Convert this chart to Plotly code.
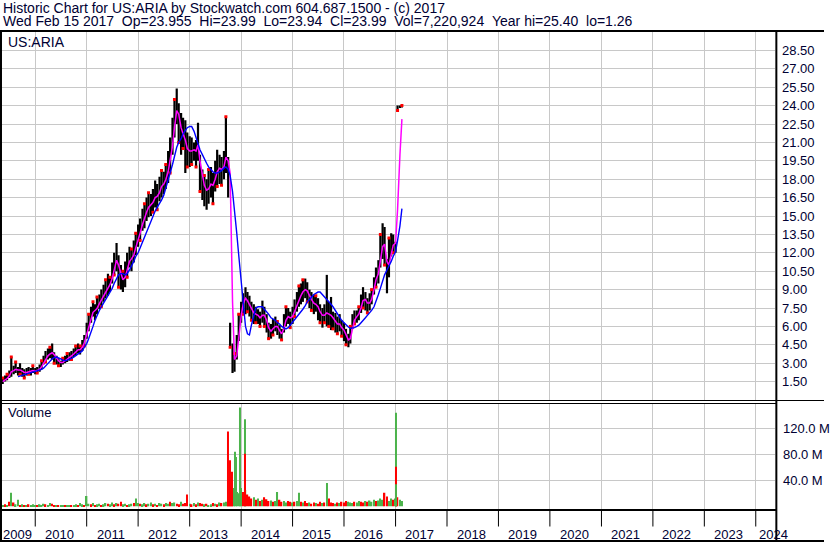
import plotly.graph_objects as go
from datetime import date

W, H = 830, 543

# ---------------- data ----------------
years = [2009, 2010, 2011, 2012, 2013, 2014, 2015, 2016, 2017, 2018,
         2019, 2020, 2021, 2022, 2023, 2024]
price_ticks = [1.5, 3.0, 4.5, 6.0, 7.5, 9.0, 10.5, 12.0, 13.5, 15.0, 16.5,
               18.0, 19.5, 21.0, 22.5, 24.0, 25.5, 27.0, 28.5]
price_tick_text = ["1.50", "3.00", "4.50", "6.00", "7.50", "9.00", "10.50",
                   "12.00", "13.50", "15.00", "16.50", "18.00", "19.50",
                   "21.00", "22.50", "24.00", "25.50", "27.00", "28.50"]
vol_ticks = [40e6, 80e6, 120e6]
vol_tick_text = ["40.0 M", "80.0 M", "120.0 M"]

# semi-monthly bars (1st / 15th), 2009-05-15 .. 2017-02-15
low_2009 = [1.3, 1.5, 1.6, 1.8, 1.9, 2.1, 2.2, 2.0, 2.1, 1.9, 1.8, 2.0, 2.1, 2.0, 2.2]
high_2009 = [1.8, 2.0, 2.1, 2.4, 3.5, 2.8, 3.1, 2.7, 3.0, 2.6, 2.5, 2.6, 2.7, 2.6, 2.8]
low_2010 = [2.1, 2.2, 2.3, 2.5, 2.9, 3.1, 3.3, 3.4, 3.3, 3.0, 2.9, 2.8,
            2.7, 2.9, 3.0, 3.1, 3.2, 3.3, 3.5, 3.6, 3.8, 3.7, 4.0, 4.4]
high_2010 = [2.6, 2.7, 2.9, 3.2, 3.6, 4.0, 4.2, 4.3, 4.6, 3.9, 3.6, 3.4,
             3.2, 3.4, 3.6, 3.8, 3.9, 4.0, 4.2, 4.4, 4.6, 4.4, 4.9, 5.3]
low_2011 = [5.0, 5.6, 6.3, 6.8, 6.5, 7.0, 7.4, 7.6, 8.0, 8.3, 8.5, 8.8,
            9.5, 10.2, 10.5, 9.2, 9.0, 8.8, 9.2, 10.0, 10.8, 10.5, 11.2, 11.8]
high_2011 = [6.3, 7.0, 7.6, 8.0, 7.8, 8.4, 8.6, 9.0, 9.4, 9.8, 10.3, 10.0,
             11.2, 12.0, 12.8, 11.8, 11.0, 10.5, 11.3, 12.0, 12.5, 12.3, 13.0, 13.6]
low_2012 = [12.5, 13.0, 13.8, 14.0, 14.6, 14.9, 15.0, 15.3, 15.7, 15.5, 16.2, 16.5,
            16.8, 17.2, 17.7, 18.5, 20.0, 21.4, 22.5, 21.0, 20.0, 20.5, 18.5, 19.0]
high_2012 = [14.3, 14.8, 15.6, 16.0, 16.5, 16.9, 16.8, 17.2, 17.9, 17.6, 18.2, 18.7,
             18.6, 19.2, 20.3, 21.4, 23.0, 24.5, 25.4, 24.2, 23.4, 23.0, 22.8, 21.8]
low_2013 = [19.0, 19.2, 19.5, 19.0, 19.5, 17.0, 16.3, 15.8, 15.5, 16.0, 16.5, 16.0,
            17.0, 17.4, 17.6, 17.5, 18.0, 18.5, 16.5, 4.3, 2.2, 2.3, 3.3, 4.8]
high_2013 = [21.5, 21.4, 21.0, 21.2, 22.6, 20.0, 18.8, 18.3, 18.0, 18.8, 19.0, 18.5,
             19.5, 20.4, 20.0, 19.8, 20.3, 23.1, 19.8, 6.3, 4.6, 3.8, 5.3, 7.0]
low_2014 = [6.3, 7.0, 7.0, 7.2, 6.8, 6.5, 6.2, 6.3, 6.2, 6.0, 6.3, 6.0,
            5.5, 5.0, 5.0, 5.3, 5.6, 5.3, 5.0, 4.9, 5.5, 6.0, 6.2, 5.9]
high_2014 = [8.0, 8.7, 9.2, 8.8, 8.5, 8.0, 7.8, 7.6, 7.4, 7.2, 8.1, 7.6,
             7.0, 6.3, 6.2, 6.6, 6.8, 6.4, 6.1, 5.8, 7.0, 7.6, 7.5, 7.2]
low_2015 = [6.2, 6.8, 7.2, 7.6, 7.8, 8.0, 8.3, 8.0, 7.5, 7.3, 7.0, 7.2,
            6.5, 6.3, 5.9, 6.3, 6.0, 6.0, 5.7, 5.8, 5.5, 5.4, 5.6, 5.2]
high_2015 = [7.6, 8.2, 8.8, 9.3, 9.5, 9.8, 9.9, 9.6, 9.0, 8.8, 8.6, 8.5,
             8.3, 7.8, 7.5, 7.8, 10.2, 8.0, 8.4, 7.2, 7.1, 6.8, 7.0, 6.5]
low_2016 = [4.8, 4.5, 4.3, 4.6, 5.8, 6.2, 6.3, 6.5, 7.1, 7.5, 7.3, 7.1,
            7.3, 7.8, 8.6, 9.2, 9.5, 10.8, 11.5, 11.0, 8.7, 10.0, 11.7, 12.0]
high_2016 = [6.3, 5.8, 5.4, 6.0, 7.0, 7.3, 7.3, 7.6, 8.6, 9.2, 8.8, 8.3,
             8.7, 9.0, 10.0, 10.8, 11.4, 13.5, 14.4, 14.1, 11.5, 13.2, 13.6, 13.5]
low_2017 = [12.0, 23.6, 23.8, 23.85]
high_2017 = [12.9, 24.0, 24.0, 24.0]

ma_short_2009 = [1.5, 1.6, 1.75, 1.95, 2.3, 2.4, 2.5, 2.45, 2.45, 2.35, 2.25, 2.25, 2.3, 2.3, 2.4]
ma_short_2010 = [2.35, 2.4, 2.5, 2.7, 3.0, 3.35, 3.6, 3.75, 3.85, 3.7, 3.4, 3.2,
                 3.05, 3.05, 3.2, 3.35, 3.5, 3.6, 3.75, 3.9, 4.1, 4.1, 4.3, 4.65]
ma_short_2011 = [5.3, 6.0, 6.6, 7.15, 7.3, 7.45, 7.85, 8.15, 8.5, 8.85, 9.2, 9.4,
                 9.9, 10.7, 11.4, 11.0, 10.3, 9.8, 10.0, 10.6, 11.3, 11.5, 11.8, 12.4]
ma_short_2012 = [13.0, 13.6, 14.3, 14.85, 15.3, 15.7, 15.9, 16.1, 16.5, 16.6, 16.9, 17.4,
                 17.6, 17.95, 18.6, 19.5, 20.7, 22.2, 23.6, 23.3, 22.2, 21.7, 21.2, 20.5]
ma_short_2013 = [20.3, 20.3, 20.4, 20.3, 20.8, 19.5, 18.2, 17.5, 17.1, 17.2, 17.6, 17.5,
                 18.0, 18.6, 18.9, 18.8, 19.0, 19.8, 19.5, 18.5, 8.0, 3.3, 3.6, 5.2]
ma_short_2014 = [6.8, 7.8, 8.3, 8.1, 7.8, 7.4, 7.1, 7.0, 6.9, 6.7, 6.9, 6.9,
                 6.5, 5.9, 5.6, 5.8, 6.0, 6.0, 5.7, 5.4, 5.8, 6.5, 6.8, 6.7]
ma_short_2015 = [6.8, 7.2, 7.7, 8.2, 8.5, 8.8, 9.0, 8.9, 8.5, 8.2, 7.9, 7.8,
                 7.6, 7.2, 6.9, 6.9, 7.1, 7.0, 6.9, 6.7, 6.4, 6.2, 6.2, 5.9]
ma_short_2016 = [5.7, 5.3, 4.9, 5.0, 5.8, 6.5, 6.8, 7.0, 7.5, 8.1, 8.2, 7.9,
                 7.9, 8.2, 9.0, 9.8, 10.3, 11.3, 12.5, 12.7, 11.3, 11.0, 12.0, 12.6]
ma_short_2017 = [12.8, 15.5, 20.0, 22.9]

ma_long_2009 = [None, None, None, None, None, None, None, 1.9, 1.95, 2.0, 2.05, 2.1, 2.15, 2.2, 2.25]
ma_long_2010 = [2.3, 2.35, 2.4, 2.5, 2.6, 2.75, 2.95, 3.15, 3.35, 3.45, 3.5, 3.45,
                3.35, 3.25, 3.2, 3.25, 3.3, 3.4, 3.5, 3.6, 3.75, 3.85, 4.0, 4.3]
ma_long_2011 = [4.6, 5.0, 5.5, 6.0, 6.5, 6.9, 7.3, 7.6, 7.9, 8.2, 8.5, 8.8,
                9.1, 9.5, 9.9, 10.2, 10.3, 10.3, 10.2, 10.3, 10.6, 10.9, 11.3, 11.7]
ma_long_2012 = [12.0, 12.4, 12.9, 13.3, 13.7, 14.1, 14.6, 15.0, 15.4, 15.7, 16.0, 16.3,
                16.7, 17.2, 17.8, 18.5, 19.2, 20.0, 20.6, 21.0, 21.3, 21.7, 22.0, 22.2]
ma_long_2013 = [22.3, 22.3, 21.9, 21.4, 20.8, 20.4, 20.0, 19.6, 19.3, 19.0, 18.8, 18.6,
                18.5, 18.5, 18.6, 18.7, 18.9, 19.0, 18.8, 18.3, 17.0, 15.6, 13.6, 11.8]
ma_long_2014 = [9.6, 7.8, 6.0, 5.4, 5.3, 6.1, 7.0, 7.5, 7.6, 7.6, 7.6, 7.4,
                7.2, 7.0, 6.7, 6.6, 6.5, 6.3, 6.2, 6.0, 5.9, 5.8, 5.9, 6.1]
ma_long_2015 = [6.3, 6.5, 6.8, 7.0, 7.2, 7.4, 7.7, 8.0, 8.2, 8.4, 8.6, 8.7,
                8.8, 8.8, 8.6, 8.4, 8.2, 8.0, 7.8, 7.6, 7.3, 7.0, 6.7, 6.5]
ma_long_2016 = [6.3, 6.1, 5.95, 5.85, 5.85, 5.9, 6.0, 6.1, 6.3, 6.45, 6.7, 6.9,
                7.1, 7.3, 7.6, 8.0, 8.6, 9.1, 9.7, 10.2, 10.6, 10.9, 11.3, 11.7]
ma_long_2017 = [12.1, 13.0, 14.2, 15.6]

# volume (millions) and direction (1 = up/green, 0 = down/red)
vol_2009 = [2, 3, 2, 7, 21, 6, 3, 10, 2, 3, 2, 2, 3, 2, 3]
vol_2010 = [2, 1, 3, 2, 4, 3, 2, 5, 4, 2, 1, 2, 1, 2, 1, 1, 2, 1, 2, 3, 2, 5, 3, 2]
vol_2011 = [16, 4, 3, 5, 2, 3, 4, 2, 3, 5, 4, 3, 6, 3, 5, 4, 7, 3, 4, 2, 3, 4, 5, 12]
vol_2012 = [5, 4, 3, 5, 3, 4, 6, 3, 4, 2, 5, 4, 3, 5, 4, 7, 5, 6, 4, 3, 7, 4, 5, 18]
vol_2013 = [4, 3, 5, 3, 6, 5, 4, 3, 4, 2, 3, 5, 4, 3, 6, 5, 6, 7, 8, 30, 25, 28, 22, 20]
vol_2014 = [28, 22, 25, 18, 15, 12, 14, 10, 12, 8, 10, 14, 11, 8, 9, 7, 8, 22, 10, 7, 8, 6, 8, 7]
vol_2015 = [6, 7, 8, 21, 7, 6, 8, 5, 6, 4, 6, 5, 4, 7, 5, 6, 36, 12, 6, 5, 4, 6, 5, 7]
vol_2016 = [6, 8, 7, 6, 5, 7, 6, 8, 7, 6, 8, 7, 9, 7, 10, 8, 9, 12, 10, 21, 15, 8, 12, 10]
vol_2017 = [12, 14, 10, 8]

dir_2009 = [1, 0, 1, 0, 1, 0, 1, 1, 0, 1, 0, 1, 0, 1, 1]
dir_2010 = [1, 0, 1, 1, 1, 0, 1, 1, 0, 0, 1, 0, 1, 1, 0, 1, 1, 0, 1, 1, 0, 1, 1, 0]
dir_2011 = [1, 1, 0, 1, 0, 1, 1, 0, 1, 1, 0, 1, 1, 0, 1, 0, 0, 1, 1, 0, 1, 1, 0, 1]
dir_2012 = [1, 0, 1, 1, 0, 1, 1, 0, 1, 0, 1, 1, 0, 1, 1, 0, 1, 1, 0, 0, 1, 0, 0, 0]
dir_2013 = [1, 0, 1, 0, 1, 0, 0, 1, 0, 1, 1, 0, 1, 0, 1, 0, 1, 1, 0, 0, 0, 1, 1, 1]
dir_2014 = [1, 0, 1, 0, 0, 0, 1, 0, 1, 0, 1, 0, 0, 0, 1, 0, 1, 1, 0, 0, 1, 1, 0, 0]
dir_2015 = [1, 0, 1, 1, 0, 1, 0, 0, 1, 0, 0, 1, 0, 0, 1, 0, 1, 0, 0, 0, 1, 0, 1, 0]
dir_2016 = [0, 0, 1, 1, 1, 0, 1, 1, 0, 0, 1, 0, 1, 1, 1, 0, 1, 1, 1, 0, 0, 1, 1, 0]
dir_2017 = [1, 0, 1, 1]

# single heavy-volume days (millions)
spike_dates = ["2013-10-01", "2013-10-15", "2013-10-27", "2013-11-17", "2013-11-29",
               "2013-12-21", "2014-01-25", "2014-01-26", "2017-01-04", "2017-01-05",
               "2017-01-06"]
spike_vols = [115, 71, 53, 84, 76, 152, 134, 81, 144, 61, 34]
spike_dirs = [0, 0, 0, 1, 1, 1, 1, 0, 1, 0, 1]

header_1 = "Historic Chart for US:ARIA by Stockwatch.com 604.687.1500 - (c) 2017"
header_2 = ["Wed Feb 15 2017", "Op=23.955", "Hi=23.99", "Lo=23.94", "Cl=23.99",
            "Vol=7,220,924", "Year hi=25.40", "lo=1.26"]

# ---------------- assemble ----------------
lows = low_2009 + low_2010 + low_2011 + low_2012 + low_2013 + low_2014 + low_2015 + low_2016 + low_2017
highs = high_2009 + high_2010 + high_2011 + high_2012 + high_2013 + high_2014 + high_2015 + high_2016 + high_2017
ma_short = (ma_short_2009 + ma_short_2010 + ma_short_2011 + ma_short_2012 + ma_short_2013
            + ma_short_2014 + ma_short_2015 + ma_short_2016 + ma_short_2017)
ma_long = (ma_long_2009 + ma_long_2010 + ma_long_2011 + ma_long_2012 + ma_long_2013
           + ma_long_2014 + ma_long_2015 + ma_long_2016 + ma_long_2017)
vols = vol_2009 + vol_2010 + vol_2011 + vol_2012 + vol_2013 + vol_2014 + vol_2015 + vol_2016 + vol_2017
dirs = dir_2009 + dir_2010 + dir_2011 + dir_2012 + dir_2013 + dir_2014 + dir_2015 + dir_2016 + dir_2017

bar_dates = []
for y in range(2009, 2018):
    for m in range(1, 13):
        for d in (1, 15):
            dt = date(y, m, d)
            if date(2009, 5, 15) <= dt <= date(2017, 2, 15):
                bar_dates.append(dt.isoformat())

n = len(bar_dates)
for name, arr in [("lows", lows), ("highs", highs), ("ma_short", ma_short),
                  ("ma_long", ma_long), ("vols", vols), ("dirs", dirs)]:
    if len(arr) != n:
        raise SystemExit(f"{name} has {len(arr)} values, expected {n}")

GREEN = "#4cb34c"
RED = "#ff0000"
GRID = "#c8c8c8"
TXT = "#000033"
FONT = "Arial, 'Liberation Sans', sans-serif"
HEAD_SIZE = 14
TICK_SIZE = 13


def X(px):
    return px / W


def Y(py):
    return 1 - py / H


bx, by = [], []
for d, lo, hi in zip(bar_dates, lows, highs):
    bx += [d, d, None]
    by += [lo, hi, None]

rx, ry = [], []
for i, (d, lo, hi, up) in enumerate(zip(bar_dates, lows, highs, dirs)):
    if i % 2 == 0:
        rx.append(d)
        ry.append(hi if up else lo)

fig = go.Figure()
fig.add_trace(go.Scatter(x=bx, y=by, mode="lines", line=dict(color="black", width=2.2),
                         xaxis="x", yaxis="y", hoverinfo="skip"))
fig.add_trace(go.Scatter(x=rx, y=ry, mode="markers",
                         marker=dict(symbol="square", size=3, color=RED, line=dict(width=0)),
                         xaxis="x", yaxis="y", hoverinfo="skip"))
fig.add_trace(go.Scatter(x=bar_dates, y=ma_short, mode="lines",
                         line=dict(color="#ff00ff", width=1.5), xaxis="x", yaxis="y"))
fig.add_trace(go.Scatter(x=bar_dates, y=ma_long, mode="lines", connectgaps=False,
                         line=dict(color="#0000ff", width=1.4), xaxis="x", yaxis="y"))

day_ms = 86400000
fig.add_trace(go.Bar(x=bar_dates, y=[v * 1e6 for v in vols],
                     marker=dict(color=[GREEN if u else RED for u in dirs], line=dict(width=0)),
                     width=10 * day_ms, xaxis="x2", yaxis="y2"))
fig.add_trace(go.Bar(x=spike_dates, y=[v * 1e6 for v in spike_vols],
                     marker=dict(color=[GREEN if u else RED for u in spike_dirs], line=dict(width=0)),
                     width=7 * day_ms, xaxis="x2", yaxis="y2"))

year_starts = [f"{y}-01-01" for y in years[1:]]
x_range = ["2009-05-10", "2024-05-19"]
x_dom = [X(2), X(781)]

common_x = dict(type="date", range=x_range, domain=x_dom, tickvals=year_starts,
                showticklabels=False, showgrid=True, gridcolor=GRID, gridwidth=1,
                zeroline=False, showline=False, ticks="")

fig.update_layout(
    width=W, height=H,
    margin=dict(l=0, r=0, t=0, b=0, pad=0),
    paper_bgcolor="white", plot_bgcolor="white",
    showlegend=False, barmode="overlay",
    font=dict(family=FONT, size=TICK_SIZE, color=TXT),
    xaxis=dict(anchor="y", **common_x),
    xaxis2=dict(anchor="y2", matches="x", **common_x),
    yaxis=dict(domain=[Y(400), Y(32)], range=[0, 30], side="right", anchor="x",
               tickvals=price_ticks, ticktext=price_tick_text,
               showgrid=True, gridcolor=GRID, zeroline=False, showline=False,
               ticks="outside", ticklen=3, tickcolor="rgba(0,0,0,0)",
               tickfont=dict(family=FONT, size=TICK_SIZE, color=TXT)),
    yaxis2=dict(domain=[Y(510), Y(403)], range=[-5.7e6, 158.9e6], side="right", anchor="x2",
                tickvals=vol_ticks, ticktext=vol_tick_text,
                showgrid=True, gridcolor=GRID, zeroline=False, showline=False,
                ticks="outside", ticklen=4, tickcolor="rgba(0,0,0,0)",
                tickfont=dict(family=FONT, size=TICK_SIZE, color=TXT)),
)

shapes = []


def hline(py, x0, x1, w):
    shapes.append(dict(type="line", xref="paper", yref="paper", x0=X(x0), x1=X(x1),
                       y0=Y(py), y1=Y(py), line=dict(color="black", width=w)))


def vline(px, y0, y1, w):
    shapes.append(dict(type="line", xref="paper", yref="paper", x0=X(px), x1=X(px),
                       y0=Y(y0), y1=Y(y1), line=dict(color="black", width=w)))


hline(31, 0, 830, 2)
vline(1, 30, 542, 2)
vline(782, 30, 542, 2)
hline(400.5, 0, 830, 1.2)
hline(403.5, 0, 782, 1.2)
hline(510, 0, 782, 2)
hline(541, 0, 830, 2)
for ys in year_starts:
    shapes.append(dict(type="line", xref="x", yref="paper", x0=ys, x1=ys,
                       y0=Y(510), y1=Y(526.5), line=dict(color="black", width=1)))
fig.update_layout(shapes=shapes)

ann = []


def text(px, py, s, size, anchor="left"):
    ann.append(dict(x=X(px), y=Y(py), xref="paper", yref="paper", text=s, showarrow=False,
                    xanchor=anchor, yanchor="middle",
                    font=dict(family=FONT, size=size, color=TXT)))


text(1, 8, header_1, HEAD_SIZE)
text(1, 21.5, "\u00a0\u00a0".join(header_2), HEAD_SIZE)
text(6, 42, "US:ARIA", 14)
text(6, 413, "Volume", TICK_SIZE)

for y in years:
    if y == 2009:
        ann.append(dict(x=f"{y}-07-01", xref="x", y=Y(534), yref="paper", text=str(y),
                        showarrow=False, xanchor="center", yanchor="middle", xshift=8,
                        font=dict(family=FONT, size=TICK_SIZE, color=TXT)))
    elif y == 2024:
        ann.append(dict(x=f"{y}-01-01", xref="x", y=Y(534), yref="paper", text=str(y),
                        showarrow=False, xanchor="left", yanchor="middle", xshift=1,
                        font=dict(family=FONT, size=TICK_SIZE, color=TXT)))
    else:
        ann.append(dict(x=f"{y}-07-01", xref="x", y=Y(534), yref="paper", text=str(y),
                        showarrow=False, xanchor="center", yanchor="middle", xshift=-1.5,
                        font=dict(family=FONT, size=TICK_SIZE, color=TXT)))
fig.update_layout(annotations=ann)

fig.write_html("out.html", config={"displayModeBar": False},
               post_script="document.body.style.margin='0';document.body.style.overflow='hidden';")
